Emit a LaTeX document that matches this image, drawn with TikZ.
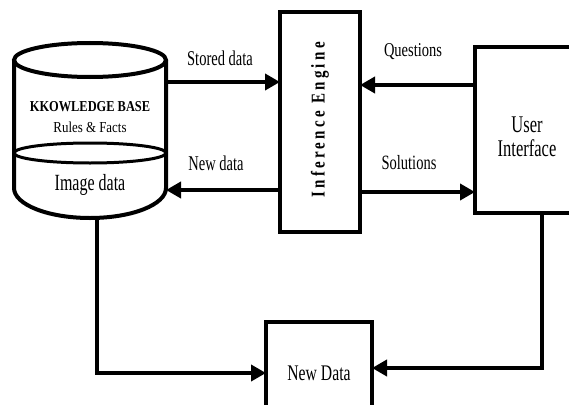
\documentclass[tikz,border=0pt]{standalone}
\usepackage{fontspec}
\setmainfont{Liberation Serif}
\usetikzlibrary{arrows.meta}
% stretch a piece of text vertically by #1
\newcommand\tallbox[2]{\scalebox{1}[#1]{#2}}
\begin{document}
\begin{tikzpicture}[x=1pt,y=-1pt,
  block/.style={draw, line width=4.2pt, fill=white, inner sep=0pt, outer sep=0pt},
  link/.style={line width=4.5pt, -{Triangle[length=15pt,width=16pt]}},
  lbl/.style={font=\fontsize{14.5}{16}\selectfont, inner sep=0pt}]
\useasboundingbox (0,0) rectangle (569,404);
\clip (0,0) rectangle (569,404);
\fill[white] (0,0) rectangle (569,404);

% knowledge base drawn as a cylinder
\draw[line width=4pt, fill=white] (14,60) -- (14,188)
  arc[start angle=180, end angle=0, x radius=76, y radius=30] -- (166,60);
\draw[line width=4pt, fill=white] (90,60) ellipse[x radius=76, y radius=17];
\draw[line width=3pt] (90,153) ellipse[x radius=76, y radius=10];
\node[minimum width=152pt, minimum height=175pt, inner sep=0pt, outer sep=0pt] (kb) at (90,130.5) {};
\node[inner sep=0pt, font=\bfseries\fontsize{12.4}{14}\selectfont] (kbtitle) at (90,107) {\tallbox{1.22}{KKOWLEDGE BASE}};
\node[inner sep=0pt, font=\fontsize{12.9}{14}\selectfont] (kbrules) at (90,127) {\tallbox{1.18}{Rules \& Facts}};
\node[inner sep=0pt, font=\fontsize{16}{18}\selectfont] (kbimg) at (90,185) {\tallbox{1.45}{Image data}};

% inference engine
\node[block, minimum width=80pt, minimum height=220pt] (ie) at (320,122) {};
\node[rotate=90, inner sep=0pt, font=\bfseries\fontsize{15}{16}\selectfont\addfontfeature{LetterSpace=22}] (ielabel) at (320,120) {\tallbox{1.3}{Inference Engine}};

% user interface
\node[block, minimum width=104pt, minimum height=166pt] (ui) at (527,130) {};
\node[inner sep=0pt, font=\fontsize{16.5}{18}\selectfont] (uiline1) at (527,125) {\tallbox{1.45}{User}};
\node[inner sep=0pt, font=\fontsize{16.5}{18}\selectfont] (uiline2) at (527,148) {\tallbox{1.45}{Interface}};

% new data store
\node[block, minimum width=106pt, minimum height=102pt, font=\fontsize{15.7}{18}\selectfont] (nd) at (319,373) {\tallbox{1.42}{New Data}};

% connectors
\draw[link] (kb.east |- 0,82) -- (ie.west |- 0,82);
\draw[link] (ie.west |- 0,190) -- (kb.east |- 0,190);
\draw[link] (ui.west |- 0,85) -- (ie.east |- 0,85);
\draw[link] (ie.east |- 0,192) -- (ui.west |- 0,192);
\draw[link] ([xshift=7pt]kb.south) |- (nd.west);
\draw[link] ([xshift=15pt]ui.south) |- ([yshift=5pt]nd.east);

% connector labels
\node[lbl] (lstored) at (220,58) {\tallbox{1.45}{Stored data}};
\node[lbl] (lnew) at (216,163) {\tallbox{1.45}{New data}};
\node[lbl] (lquest) at (413,52) {\tallbox{1.35}{Questions}};
\node[lbl] (lsol) at (409,163) {\tallbox{1.4}{Solutions}};
\end{tikzpicture}
\end{document}
